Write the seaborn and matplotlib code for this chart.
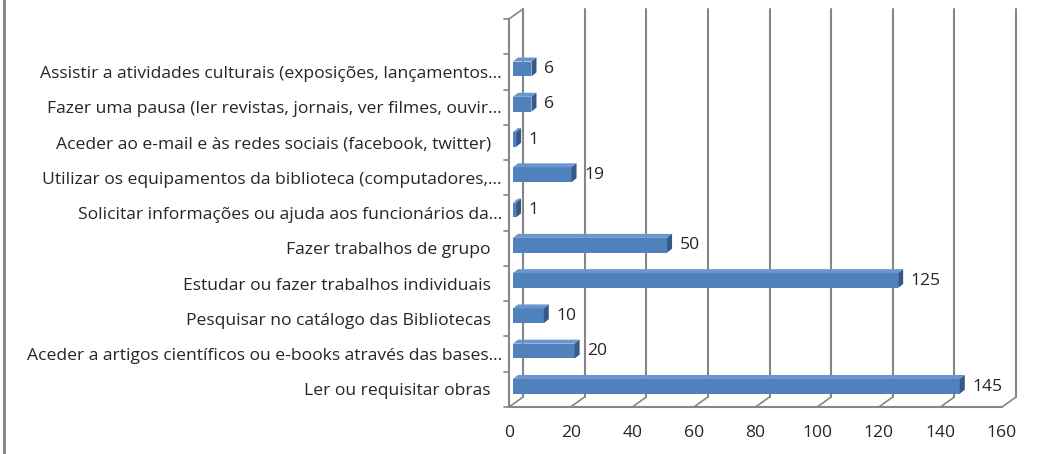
import matplotlib
matplotlib.use('Agg')
import matplotlib.pyplot as plt
import matplotlib.transforms as mtransforms
from matplotlib.patches import Polygon
from matplotlib.lines import Line2D
import seaborn as sns

# Categories, top to bottom as in the chart
categories = [
    'Assistir a atividades culturais (exposições, lançamentos...',
    'Fazer uma pausa (ler revistas, jornais, ver filmes, ouvir...',
    'Aceder ao e-mail e às redes sociais (facebook, twitter)',
    'Utilizar os equipamentos da biblioteca (computadores,...',
    'Solicitar informações ou ajuda aos funcionários da...',
    'Fazer trabalhos de grupo',
    'Estudar ou fazer trabalhos individuais',
    'Pesquisar no catálogo das Bibliotecas',
    'Aceder a artigos científicos ou e-books através das bases...',
    'Ler ou requisitar obras',
]
counts = [6, 6, 1, 19, 1, 50, 125, 10, 20, 145]
xticks = [0, 20, 40, 60, 80, 100, 120, 140, 160]

front = '#4F81BD'
top_col = '#6A96CE'
side_col = '#36598A'
grid_col = '#868686'

sns.set_style('white')
plt.rcParams['font.family'] = ['Open Sans', 'DejaVu Sans']
fs = 12.6

fig = plt.figure(figsize=(10.58, 4.54), dpi=100)
ax = fig.add_axes([509 / 1058, 47 / 454, 493 / 1058, 388 / 454])

sns.barplot(x=counts, y=categories, orient='h', color=front, width=0.42,
            saturation=1, ax=ax, zorder=3)

ax.set_xlim(0, 160)
ax.set_ylim(9.5, -1.5)
ax.set_xticks(xticks)
ax.set_xticklabels([str(t) for t in xticks], fontsize=fs)
ax.set_yticks(range(len(categories)))
ax.set_yticklabels(categories, fontsize=fs)
ax.tick_params(axis='y', length=0, pad=13)
ax.tick_params(axis='x', length=5, width=1.2, color=grid_col, pad=8, direction='out')
ax.set_xlabel('')
ax.set_ylabel('')
for s in ['top', 'right']:
    ax.spines[s].set_visible(False)
for s in ['left', 'bottom']:
    ax.spines[s].set_color(grid_col)
    ax.spines[s].set_linewidth(1.5)
ax.set_facecolor('none')

# truncated labels hang their "..." a little further right
for lab in ax.get_yticklabels():
    if lab.get_text().endswith('...'):
        lab.set_transform(lab.get_transform() +
                          mtransforms.ScaledTranslation(11 / 100, 0, fig.dpi_scale_trans))

# 3D wall offset (back plane) and bar offset (middle of depth)
dpi = fig.dpi
back = ax.transData + mtransforms.ScaledTranslation(14 / dpi, 10 / dpi, fig.dpi_scale_trans)
mid = ax.transData + mtransforms.ScaledTranslation(4 / dpi, 3 / dpi, fig.dpi_scale_trans)
ymin, ymax = 9.5, -1.5

# back wall grid lines
for t in xticks:
    ax.add_line(Line2D([t, t], [ymin, ymax], transform=back, color=grid_col,
                       lw=1.5, clip_on=False, zorder=1))

# floor diagonals and top-left diagonal, computed in pixels
def px(x, y, tr=None):
    return (tr or ax.transData).transform((x, y))

for t in xticks:
    p0 = px(t, ymin)
    p1 = px(t, ymin, back)
    fig.add_artist(Line2D([p0[0], p1[0]], [p0[1], p1[1]], transform=None,
                          color=grid_col, lw=1.2))
p0 = px(0, ymax)
p1 = px(0, ymax, back)
fig.add_artist(Line2D([p0[0], p1[0]], [p0[1], p1[1]], transform=None,
                      color=grid_col, lw=1.2))

# left axis ticks at category boundaries
for b in [i - 0.5 for i in range(-1, len(categories) + 1)]:
    p = px(0, b)
    fig.add_artist(Line2D([p[0] - 5, p[0]], [p[1], p[1]], transform=None,
                          color=grid_col, lw=1.2))

# bars: move to middle depth and add top/side faces
dx, dy = 5, 4
for patch, v in zip(ax.patches, counts):
    patch.set_transform(mid)
    patch.set_edgecolor('none')
    x0, y0 = patch.get_x(), patch.get_y()
    w, h = patch.get_width(), patch.get_height()
    ul = px(x0, y0, mid)
    ur = px(x0 + w, y0, mid)
    lr = px(x0 + w, y0 + h, mid)
    topf = [ul, ur, (ur[0] + dx, ur[1] + dy), (ul[0] + dx, ul[1] + dy)]
    sidef = [lr, ur, (ur[0] + dx, ur[1] + dy), (lr[0] + dx, lr[1] + dy)]
    fig.add_artist(Polygon(topf, closed=True, transform=None, facecolor=top_col,
                           edgecolor='none'))
    fig.add_artist(Polygon(sidef, closed=True, transform=None, facecolor=side_col,
                           edgecolor='none'))
    ax.annotate(str(v), (x0 + w, y0 + h / 2), xytext=(12, 2),
                textcoords='offset points', va='center', ha='left', fontsize=fs)

# outer frame line on the left edge
fig.add_artist(Line2D([4, 4], [0, 454], transform=None, color='#7F7F7F', lw=2))

fig.savefig('out.png', dpi=100, facecolor='white')
